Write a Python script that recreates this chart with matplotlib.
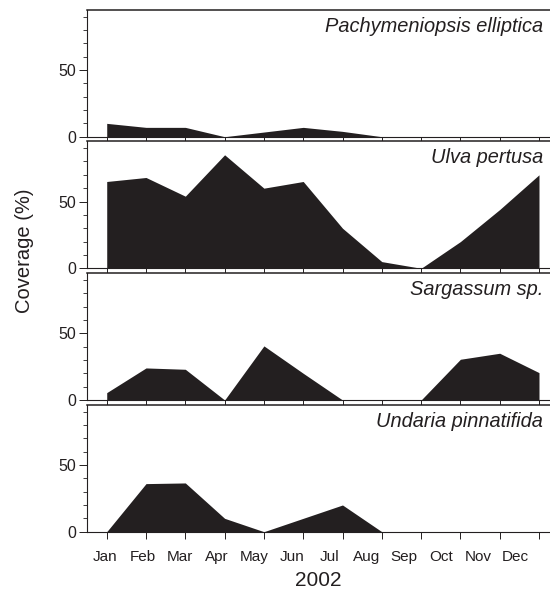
import numpy as np
import matplotlib
matplotlib.use("Agg")
import matplotlib.pyplot as plt
from matplotlib.ticker import MultipleLocator

plt.rcParams['font.family'] = ['Liberation Sans', 'DejaVu Sans']

months = ["Jan", "Feb", "Mar", "Apr", "May", "Jun",
          "Jul", "Aug", "Sep", "Oct", "Nov", "Dec"]
species = ["Pachymeniopsis elliptica", "Ulva pertusa",
           "Sargassum sp.", "Undaria pinnatifida"]

# coverage (%) per month
pachymeniopsis = [10, 7, 7, 0, 3.5, 7, 4, 0, 0, 0, 0, 0]
ulva = [65, 68, 54, 85, 60, 65, 30, 5, 0, 20, 44, 70]
sargassum = [5.5, 24, 23, 0, 40.5, 20, 0, 0, 0, 30.5, 35, 20.5]
undaria = [0, 36, 36.5, 10, 0, 10, 20, 0, 0, 0, 0, 0]

series = [pachymeniopsis, ulva, sargassum, undaria]

dark = "#231f20"
x = np.arange(len(months))
# month names sit a bit tighter than the tick marks in the original
label_pos = np.linspace(-0.04, 10.41, len(months))

fig = plt.figure(figsize=(5.5, 5.97), dpi=100)

# panel boxes (left, bottom, width, height) in figure fractions
left = 0.1576
width = 1.0 - left
bottoms = [0.771, 0.5506, 0.330, 0.1094]
height = 0.2125

axes = []
for i in range(4):
    ax = fig.add_axes([left, bottoms[i], width, height])
    ax.fill_between(x, 0, series[i], color=dark, linewidth=0)
    ax.set_xlim(-0.51, 11.28)
    ax.set_ylim(0, 95)
    ax.set_xticks(x)
    ax.set_xticklabels([])
    ax.yaxis.set_major_locator(MultipleLocator(50))
    ax.yaxis.set_minor_locator(MultipleLocator(10))
    ax.tick_params(axis='y', which='major', direction='out', length=5.8,
                   width=0.7, labelsize=11.5, colors=dark, pad=2)
    ax.tick_params(axis='y', which='minor', direction='out', length=2.9,
                   width=0.6, colors=dark)
    ax.tick_params(axis='x', which='major', direction='out', length=5,
                   width=0.7, colors=dark)
    ax.spines['right'].set_visible(False)
    ax.spines['top'].set_linewidth(1.1)
    ax.spines['left'].set_linewidth(0.8)
    ax.spines['bottom'].set_linewidth(0.8)
    for s in ax.spines.values():
        s.set_color(dark)
    ax.annotate(species[i], xy=(1, 1), xycoords='axes fraction',
                xytext=(-4.8, -15.8), textcoords='offset points',
                ha='right', va='baseline', fontsize=14.4, style='italic',
                color=dark)
    axes.append(ax)

# month names only on the bottom panel
bottom = axes[3]
bottom.set_xticks(label_pos, minor=True)
bottom.set_xticklabels(months, minor=True)
bottom.tick_params(axis='x', which='minor', length=0, labelsize=11,
                   colors=dark, pad=13)
bottom.set_xlabel("2002", fontsize=15, color=dark, labelpad=5)

fig.text(0.045, 0.58, "Coverage (%)", rotation=90, ha='center',
         va='center', fontsize=14.5, color=dark)

fig.savefig("out.png", dpi=100)
